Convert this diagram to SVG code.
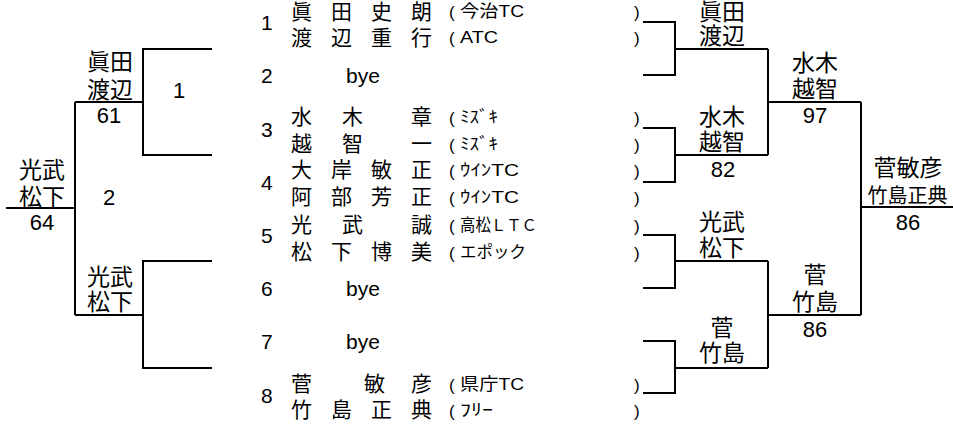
<svg xmlns="http://www.w3.org/2000/svg" width="953" height="428" viewBox="0 0 953 428">
<style>
text{font-family:"Liberation Sans","Noto Sans CJK JP",sans-serif;fill:#000}
.lbl{font-size:23px;text-anchor:middle}
.lbs{font-size:20px;text-anchor:middle}
.num{font-size:21px}
.sc{font-size:22px;text-anchor:middle}
.nm{font-size:21px}
.club{font-size:16.5px}
.par{font-size:17px}
.ln{fill:none;stroke:#000;stroke-width:2}
</style>
<rect width="953" height="428" fill="#fff"/>
<g id="connectors" class="ln">
<path d="M212,49 H143 V155 H212 M143,102 H75"/>
<path d="M212,261 H143 V368 H212 M143,315 H75"/>
<path d="M75,102 V315 M75,208 H6"/>
<path d="M643,22 H675 V75 H643 M675,49 H768"/>
<path d="M643,128 H675 V182 H643 M675,155 H768"/>
<path d="M643,235 H675 V288 H643 M675,261 H768"/>
<path d="M643,341 H675 V393 H643 M675,368 H768"/>
<path d="M768,49 V155 M768,102 H861"/>
<path d="M768,261 V368 M768,315 H861"/>
<path d="M861,102 V315 M861,207 H953"/>
</g>
<g id="entry1">
<text class="num" x="261" y="30">1</text>
<text class="nm" x="291 331 371 411" y="18.5">眞田史朗</text>
<text class="nm" x="291 331 371 411" y="44.5">渡辺重行</text>
<text class="par" x="449" y="18">(</text><text class="club" x="460" y="17" textLength="64" lengthAdjust="spacingAndGlyphs">今治TC</text><text class="par" x="634" y="18">)</text>
<text class="par" x="449" y="44">(</text><text class="club" x="460" y="43" textLength="38" lengthAdjust="spacingAndGlyphs">ATC</text><text class="par" x="634" y="44">)</text>
</g>
<g id="entry2">
<text class="num" x="261" y="83">2</text>
<text class="num" x="346" y="83">bye</text>
</g>
<g id="entry3">
<text class="num" x="261" y="137">3</text>
<text class="nm" x="291 342 411" y="123.5">水木章</text>
<text class="nm" x="291 342 411" y="150.5">越智一</text>
<text class="par" x="449" y="124">(</text><text class="club" x="460" y="123" textLength="38" lengthAdjust="spacingAndGlyphs">ﾐｽﾞｷ</text><text class="par" x="634" y="124">)</text>
<text class="par" x="449" y="151">(</text><text class="club" x="460" y="150" textLength="38" lengthAdjust="spacingAndGlyphs">ﾐｽﾞｷ</text><text class="par" x="634" y="151">)</text>
</g>
<g id="entry4">
<text class="num" x="261" y="190">4</text>
<text class="nm" x="291 331 371 411" y="176.5">大岸敏正</text>
<text class="nm" x="291 331 371 411" y="203.5">阿部芳正</text>
<text class="par" x="449" y="177">(</text><text class="club" x="460" y="176" textLength="59" lengthAdjust="spacingAndGlyphs">ｳｲﾝTC</text><text class="par" x="634" y="177">)</text>
<text class="par" x="449" y="204">(</text><text class="club" x="460" y="203" textLength="59" lengthAdjust="spacingAndGlyphs">ｳｲﾝTC</text><text class="par" x="634" y="204">)</text>
</g>
<g id="entry5">
<text class="num" x="261" y="243">5</text>
<text class="nm" x="291 342 411" y="231.5">光武誠</text>
<text class="nm" x="291 331 371 411" y="258.5">松下博美</text>
<text class="par" x="449" y="232">(</text><text class="club" x="460" y="231" textLength="77" lengthAdjust="spacingAndGlyphs">高松ＬＴＣ</text><text class="par" x="634" y="232">)</text>
<text class="par" x="449" y="259">(</text><text class="club" x="460" y="258" textLength="66" lengthAdjust="spacingAndGlyphs">エポック</text><text class="par" x="634" y="259">)</text>
</g>
<g id="entry6">
<text class="num" x="261" y="296">6</text>
<text class="num" x="346" y="296">bye</text>
</g>
<g id="entry7">
<text class="num" x="261" y="349">7</text>
<text class="num" x="346" y="349">bye</text>
</g>
<g id="entry8">
<text class="num" x="261" y="403">8</text>
<text class="nm" x="291 364 411" y="390.5">菅敏彦</text>
<text class="nm" x="291 331 371 411" y="416.5">竹島正典</text>
<text class="par" x="449" y="391">(</text><text class="club" x="460" y="390" textLength="64" lengthAdjust="spacingAndGlyphs">県庁TC</text><text class="par" x="634" y="391">)</text>
<text class="par" x="449" y="417">(</text><text class="club" x="460" y="416" textLength="33" lengthAdjust="spacingAndGlyphs">ﾌﾘｰ</text><text class="par" x="634" y="417">)</text>
</g>
<g id="left-sf1">
<text class="lbl" x="110" y="70">眞田</text>
<text class="lbl" x="110" y="97.5">渡辺</text>
<text class="sc" x="109" y="123">61</text>
<text class="sc" x="179" y="98">1</text>
</g>
<g id="left-sf2">
<text class="lbl" x="110" y="285">光武</text>
<text class="lbl" x="110" y="310">松下</text>
</g>
<g id="left-final">
<text class="lbl" x="42" y="178">光武</text>
<text class="lbl" x="42" y="204.5">松下</text>
<text class="sc" x="42" y="230">64</text>
<text class="sc" x="109" y="205">2</text>
</g>
<g id="right-r1">
<text class="lbl" x="722" y="19.5">眞田</text>
<text class="lbl" x="722" y="44">渡辺</text>
</g>
<g id="right-r2">
<text class="lbl" x="722" y="125">水木</text>
<text class="lbl" x="722" y="150">越智</text>
<text class="sc" x="723" y="176.5">82</text>
</g>
<g id="right-r3">
<text class="lbl" x="722" y="230">光武</text>
<text class="lbl" x="722" y="256">松下</text>
</g>
<g id="right-r4">
<text class="lbl" x="722" y="336">菅</text>
<text class="lbl" x="722" y="361">竹島</text>
</g>
<g id="right-sf1">
<text class="lbl" x="815" y="71">水木</text>
<text class="lbl" x="815" y="97">越智</text>
<text class="sc" x="815" y="123">97</text>
</g>
<g id="right-sf2">
<text class="lbl" x="815" y="283">菅</text>
<text class="lbl" x="815" y="310">竹島</text>
<text class="sc" x="815" y="337">86</text>
</g>
<g id="right-final">
<text class="lbl" x="908" y="176">菅敏彦</text>
<text class="lbs" x="907.5" y="203">竹島正典</text>
<text class="sc" x="908" y="230">86</text>
</g>
</svg>
